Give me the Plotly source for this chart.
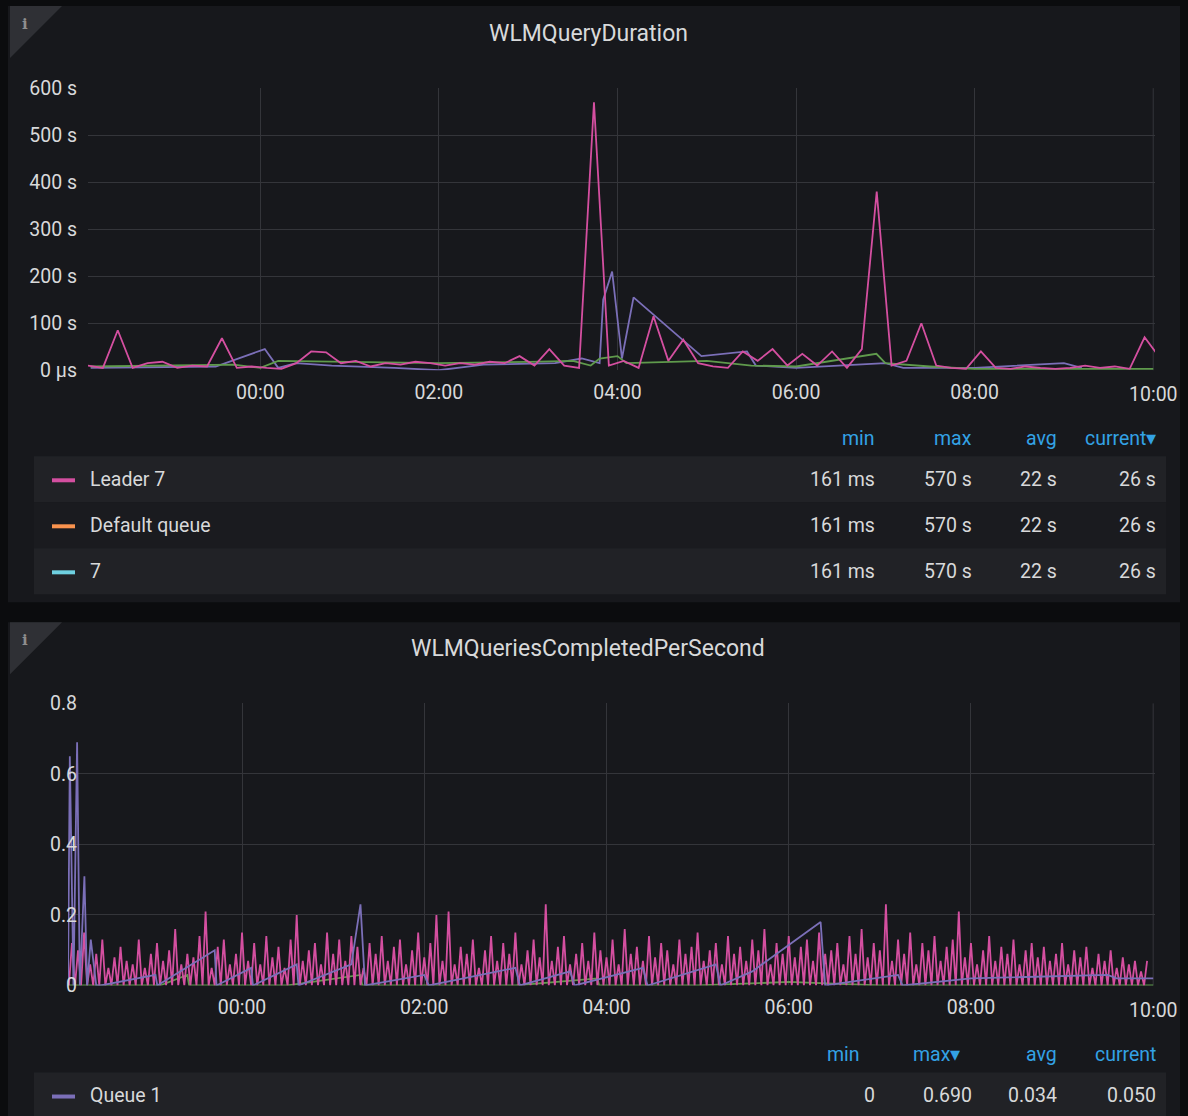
import pandas as pd
import plotly.graph_objects as go

W, H = 1188, 1116
SY, OY = 0.979, 10.9   # observed vertical render scale / offset of the page

# ---- top panel data (hours relative to 00:00) ----
leader_vals = [10, 5, 85, 5, 15, 18, 5, 10, 8, 68, 5, 8, 5, 3, 15, 40, 38, 15, 20, 8,
               15, 12, 18, 15, 10, 15, 12, 18, 15, 30, 10, 45, 10, 5, 570, 10, 20, 5, 115, 20,
               65, 15, 8, 5, 40, 20, 45, 10, 35, 10, 40, 5, 45, 380, 10, 20, 100, 10, 5, 3,
               40, 5, 3, 8, 5, 3, 5, 10, 5, 8, 3, 70, 28]
leader_step_h = 1 / 6
leader_start_h = -1.93

queue_t = [-1.9, -0.5, 0.05, 0.2, 0.4, 0.8, 1.5, 2.0, 2.5, 3.3, 3.6, 3.8, 3.84, 3.94, 4.05, 4.18,
           4.94, 5.45, 5.55, 6.0, 7.0, 7.2, 8.0, 9.0, 9.2]
queue_v = [5, 8, 45, 5, 15, 10, 5, 0, 12, 15, 25, 15, 150, 210, 25, 155,
           30, 40, 10, 5, 15, 5, 5, 15, 5]

green_t = [-1.9, -0.3, 0.0, 0.2, 1.0, 2.0, 3.0, 3.5, 3.7, 3.8, 4.0, 4.1, 5.0, 5.5, 6.0, 6.9, 7.0, 7.5, 8.0, 10.0]
green_v = [8, 12, 5, 20, 18, 15, 18, 20, 10, 25, 30, 15, 20, 10, 8, 35, 15, 8, 3, 3]

dur_ticks = [0, 100, 200, 300, 400, 500, 600]
dur_ticktext = ["0 µs", "100 s", "200 s", "300 s", "400 s", "500 s", "600 s"]
time_ticks_h = [0, 2, 4, 6, 8]
last_tick_label = "10:00"

# ---- bottom panel data ----
qps_peaks = [0.12, 0.10, 0.15, 0.06, 0.09, 0.13, 0.05, 0.08, 0.11, 0.07,
             0.06, 0.13, 0.05, 0.09, 0.12, 0.07, 0.10, 0.16, 0.06, 0.09,
             0.08, 0.14, 0.21, 0.05, 0.11, 0.13, 0.06, 0.09, 0.15, 0.07,
             0.12, 0.06, 0.14, 0.08, 0.11, 0.05, 0.13, 0.20, 0.07, 0.10,
             0.12, 0.06, 0.15, 0.09, 0.13, 0.07, 0.14, 0.11, 0.05, 0.12,
             0.09, 0.14, 0.07, 0.11, 0.13, 0.06, 0.10, 0.15, 0.08, 0.12,
             0.20, 0.07, 0.21, 0.06, 0.11, 0.09, 0.13, 0.05, 0.10, 0.14,
             0.07, 0.12, 0.09, 0.15, 0.06, 0.10, 0.13, 0.08, 0.23, 0.07,
             0.11, 0.14, 0.06, 0.09, 0.12, 0.07, 0.15, 0.10, 0.08, 0.13,
             0.06, 0.16, 0.09, 0.11, 0.07, 0.14, 0.08, 0.12, 0.10, 0.06,
             0.13, 0.09, 0.11, 0.15, 0.07, 0.10, 0.12, 0.06, 0.14, 0.09,
             0.11, 0.07, 0.13, 0.10, 0.16, 0.06, 0.12, 0.09, 0.14, 0.08,
             0.11, 0.13, 0.07, 0.15, 0.09, 0.10, 0.12, 0.06, 0.14, 0.09,
             0.16, 0.08, 0.12, 0.10, 0.23, 0.07, 0.13, 0.09, 0.15, 0.06,
             0.12, 0.10, 0.14, 0.07, 0.11, 0.13, 0.21, 0.08, 0.12, 0.06,
             0.10, 0.14, 0.07, 0.11, 0.09, 0.13, 0.06, 0.10, 0.12, 0.08,
             0.11, 0.07, 0.09, 0.12, 0.06, 0.10, 0.08, 0.11, 0.05, 0.09,
             0.07, 0.10, 0.05, 0.08, 0.06, 0.07, 0.04, 0.07]
qps_step_h = 4 / 60
qps_start_h = -1.9

q1_t = [-1.91, -1.89, -1.85, -1.81, -1.78, -1.73, -1.70, -1.66, -1.6, -1.55, -0.95, -0.93, -0.3, -0.28,
        0.1, 0.12, 0.6, 0.62, 1.2, 1.3, 1.35, 2.0, 2.05, 3.0, 3.05, 3.6, 3.65, 4.4, 4.45,
        5.2, 5.25, 5.6, 6.35, 6.4, 7.2, 7.25, 8.0, 9.5, 9.6, 10.0]
q1_v = [0.0, 0.65, 0.0, 0.69, 0.0, 0.31, 0.0, 0.13, 0.0, 0.0, 0.03, 0.0, 0.10, 0.0,
        0.05, 0.0, 0.06, 0.0, 0.06, 0.23, 0.0, 0.03, 0.0, 0.05, 0.0, 0.04, 0.0, 0.05, 0.0,
        0.06, 0.0, 0.04, 0.18, 0.0, 0.03, 0.0, 0.02, 0.03, 0.02, 0.02]

g2_t = [-1.9, -0.9, -0.6, -0.58, 0.5, 1.3, 1.32, 3.0, 3.9, 3.92, 5.0, 6.0, 7.0, 8.0, 9.0, 10.0]
g2_v = [0.0, 0.0, 0.03, 0.0, 0.0, 0.03, 0.0, 0.0, 0.02, 0.0, 0.0, 0.01, 0.0, 0.0, 0.0, 0.0]

qps_ticks = [0, 0.2, 0.4, 0.6, 0.8]
qps_ticktext = ["0", "0.2", "0.4", "0.6", "0.8"]

base = pd.Timestamp("2020-01-02 00:00")


def ts(hours):
    return [base + pd.Timedelta(hours=h) for h in hours]


def px(x):
    return x / W


def py(y):
    return 1 - (y - OY) / SY / H


PINK, PURPLE, GREEN = "#d44fa0", "#7b6fb8", "#5f9a4c"
TXT = "#d8d9da"
BLUE = "#33a2e5"
FS = 19.5

leader_t = [leader_start_h + i * leader_step_h for i in range(len(leader_vals))]
qps_t, qps_v = [], []
for k, p in enumerate(qps_peaks):
    t0 = qps_start_h + k * qps_step_h
    qps_t += [t0, t0 + qps_step_h / 2]
    qps_v += [0, p]

fig = go.Figure()
lw = 1.8
fig.add_trace(go.Scatter(x=ts(queue_t), y=queue_v, mode="lines", line=dict(color=PURPLE, width=lw)))
fig.add_trace(go.Scatter(x=ts(green_t), y=green_v, mode="lines", line=dict(color=GREEN, width=lw)))
fig.add_trace(go.Scatter(x=ts(leader_t), y=leader_vals, mode="lines", line=dict(color=PINK, width=lw)))

fig.add_trace(go.Scatter(x=ts(g2_t), y=g2_v, mode="lines", line=dict(color=GREEN, width=lw), xaxis="x2", yaxis="y2"))
fig.add_trace(go.Scatter(x=ts(qps_t), y=qps_v, mode="lines", line=dict(color=PINK, width=lw), xaxis="x2", yaxis="y2"))
fig.add_trace(go.Scatter(x=ts(q1_t), y=q1_v, mode="lines", line=dict(color=PURPLE, width=lw), xaxis="x2", yaxis="y2"))

grid = "#34353a"
axfont = dict(family="Roboto", size=FS, color=TXT)
xcommon = dict(type="date", tickformat="%H:%M", tickvals=ts(time_ticks_h),
               showgrid=True, gridcolor=grid, zeroline=False, tickfont=axfont,
               showline=False, ticks="", ticklabelstandoff=8)
x1_range = ts([-1.93, 10.02])
x2_range = ts([-1.91, 10.02])
fig.update_layout(
    width=W, height=H, margin=dict(l=0, r=0, t=0, b=0),
    paper_bgcolor="#0b0c0e", plot_bgcolor="rgba(0,0,0,0)", showlegend=False,
    xaxis=dict(domain=[px(88), px(1155)], range=x1_range, anchor="y", **xcommon),
    yaxis=dict(domain=[py(370), py(88)], range=[0, 600], tickvals=dur_ticks, ticktext=dur_ticktext,
               gridcolor=grid, zeroline=False, tickfont=axfont, ticks="", ticklabelstandoff=10),
    xaxis2=dict(domain=[px(68), px(1155)], range=x2_range, anchor="y2", **xcommon),
    yaxis2=dict(domain=[py(985), py(703)], range=[0, 0.8], tickvals=qps_ticks, ticktext=qps_ticktext,
                gridcolor=grid, zeroline=False, tickfont=axfont, ticks="", ticklabelstandoff=10),
)

shapes = [
    dict(type="rect", x0=px(8), x1=px(1180), y0=py(6), y1=py(602), fillcolor="#17181c", line_width=0, layer="below"),
    dict(type="rect", x0=px(8), x1=px(1180), y0=py(622), y1=py(1130), fillcolor="#17181c", line_width=0, layer="below"),
]
for y0 in (6, 622):
    shapes.append(dict(type="path", path=f"M {px(10)},{py(y0)} L {px(62)},{py(y0)} L {px(10)},{py(y0 + 52)} Z",
                       fillcolor="#2f3035", line_width=0, layer="below"))
# gridline at 10:00 (label added as annotation below)
for xr, yr in (("x", "y"), ("x2", "y2")):
    shapes.append(dict(type="line", xref=xr, yref=yr + " domain", x0=ts([10])[0], x1=ts([10])[0], y0=0, y1=1,
                       line=dict(color=grid, width=1), layer="below"))

rows = [(456, "#212226", "Leader 7", PINK, ["161 ms", "570 s", "22 s", "26 s"]),
        (502, "#1a1b1f", "Default queue", "#f9934e", ["161 ms", "570 s", "22 s", "26 s"]),
        (548, "#212226", "7", "#6ed0e0", ["161 ms", "570 s", "22 s", "26 s"]),
        (1072, "#212226", "Queue 1", PURPLE, ["0", "0.690", "0.034", "0.050"])]
col_x = [877, 974, 1059, 1158]
ann = []
for y0, bg, name, col, vals in rows:
    shapes.append(dict(type="rect", x0=px(34), x1=px(1166), y0=py(y0), y1=py(y0 + 46), fillcolor=bg, line_width=0, layer="below"))
    shapes.append(dict(type="line", x0=px(52), x1=px(75), y0=py(y0 + 24), y1=py(y0 + 24), line=dict(color=col, width=4)))
    ann.append(dict(x=px(88), y=py(y0 + 23), text=name, xanchor="left"))
    for cx, v in zip(col_x, vals):
        ann.append(dict(x=px(cx), y=py(y0 + 23), text=v, xanchor="right"))

for s in shapes:
    s.setdefault("xref", "paper")
    s.setdefault("yref", "paper")

for cx, hy, labels in [([877, 974, 1059, 1158], 438, ["min", "max", "avg", "current▾"]),
                       ([862, 962, 1059, 1158], 1054, ["min", "max▾", "avg", "current"])]:
    for x, t in zip(cx, labels):
        ann.append(dict(x=px(x), y=py(hy), text=t, xanchor="right", font=dict(family="Roboto", size=FS, color=BLUE)))

for ty, t in [(33, "WLMQueryDuration"), (648, "WLMQueriesCompletedPerSecond")]:
    ann.append(dict(x=px(588), y=py(ty), text=t, xanchor="center", font=dict(family="Roboto", size=23, color=TXT)))
for y0 in (6, 622):
    ann.append(dict(x=px(25), y=py(y0 + 18), text="<b>i</b>", xanchor="center", font=dict(family="DejaVu Serif", size=15, color="#8e8e8e")))

for a in ann:
    a.setdefault("font", dict(family="Roboto", size=FS, color=TXT))
    a.update(xref="paper", yref="paper", yanchor="middle", showarrow=False)

for xr, ly in (("x", 394), ("x2", 1010)):
    ann.append(dict(x=ts([10])[0], xref=xr, y=py(ly), yref="paper", text=last_tick_label, xanchor="center",
                    yanchor="middle", showarrow=False, font=dict(family="Roboto", size=FS, color=TXT)))

fig.update_layout(shapes=shapes, annotations=ann)
fig.write_html("out.html", config={"displayModeBar": False},
               post_script="document.body.style.margin='0';document.body.style.overflow='hidden';")
